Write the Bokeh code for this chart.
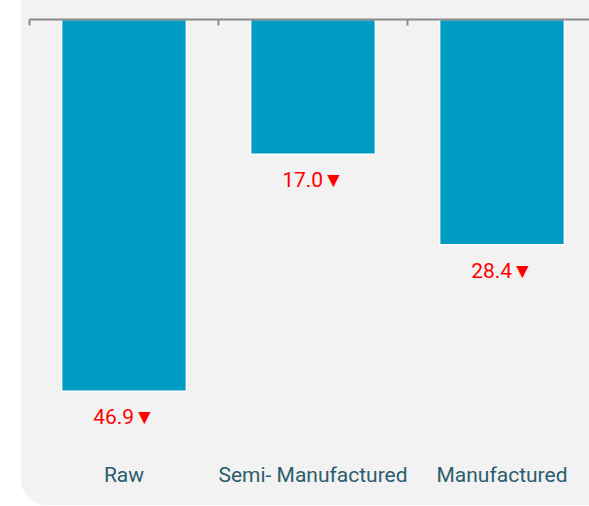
from bokeh.plotting import figure
from bokeh.models import Range1d, LinearAxis, FixedTicker
from bokeh.embed import file_html
from bokeh.resources import INLINE
from bokeh.core.properties import value

categories = ["Raw", "Semi- Manufactured", "Manufactured"]
values = [46.9, 17.0, 28.4]
labels = ["46.9▼", "17.0▼", "28.4▼"]

centers = [i + 0.5 for i in range(len(categories))]
boundaries = [i for i in range(len(categories) + 1)]

FONT = "Roboto"
BAR = "#009bc2"
BG = "#f2f2f2"
AXIS = "#8a8a8a"

p = figure(width=568, height=505,
           x_range=Range1d(0, 2.963), y_range=Range1d(55.0, 0),
           x_axis_location=None, y_axis_location=None,
           toolbar_location=None, output_backend="svg",
           background_fill_color=None, border_fill_color=None,
           outline_line_color=None,
           min_border_left=8, min_border_right=0,
           min_border_top=19, min_border_bottom=50)
p.styles = {"margin-left": "21px", "background-color": BG,
            "border-bottom-left-radius": "25px", "overflow": "hidden"}
p.xgrid.visible = False
p.ygrid.visible = False

top_axis = LinearAxis(ticker=FixedTicker(ticks=boundaries),
                      major_label_overrides={b: "" for b in boundaries},
                      axis_line_color=AXIS, axis_line_width=2,
                      major_tick_in=6, major_tick_out=0,
                      major_tick_line_color=AXIS, major_tick_line_width=2,
                      minor_tick_line_color=None)
p.add_layout(top_axis, "above")

bottom_axis = LinearAxis(ticker=FixedTicker(ticks=centers),
                         major_label_overrides={c: n for c, n in zip(centers, categories)},
                         axis_line_color=None, major_tick_line_color=None,
                         minor_tick_line_color=None,
                         major_label_text_font=FONT,
                         major_label_text_font_size="21px",
                         major_label_text_color="#2b5d6c",
                         major_label_standoff=1)
p.add_layout(bottom_axis, "below")

p.vbar(x=centers, top=0, bottom=values, width=0.66,
       fill_color=BAR, line_color="white", line_width=1.5)

p.text(x=centers, y=values, text=labels, text_align="center",
       text_baseline="top", y_offset=14, text_color="red",
       text_font=value(FONT), text_font_size="21px")

open("out.html", "w").write(file_html(p, INLINE))
